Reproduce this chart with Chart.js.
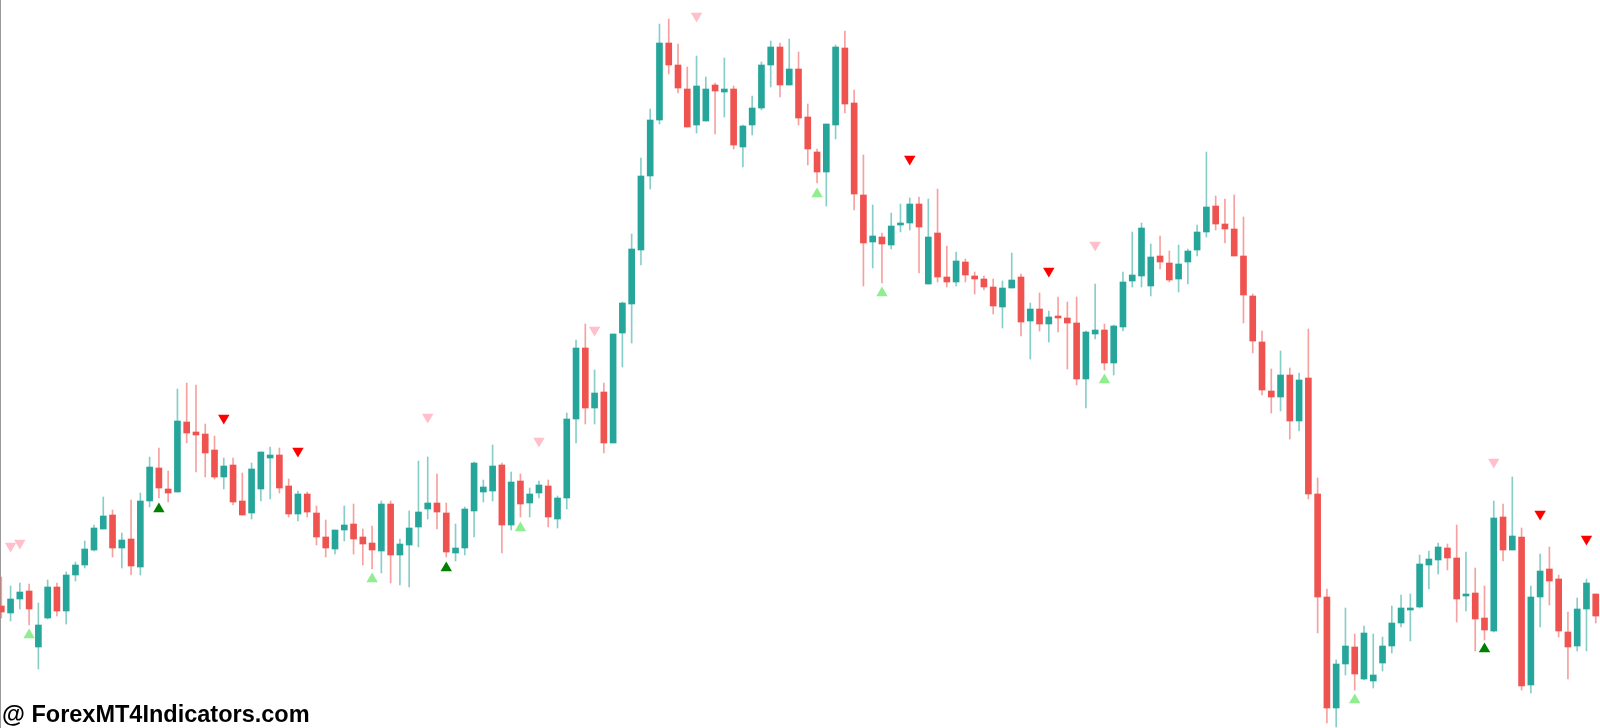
<!DOCTYPE html>
<html>
<head>
<meta charset="utf-8">
<script src="https://cdn.jsdelivr.net/npm/chart.js@4.4.1/dist/chart.umd.min.js"></script>
<style>
    html, body { margin: 0; padding: 0; background: #ffffff; }
    #wrap { position: relative; width: 1600px; height: 728px; overflow: hidden; }
    #mark {
        position: absolute; left: 2px; top: 701px;
        font-family: "Liberation Sans", Arial, sans-serif;
        font-weight: bold; font-size: 23.5px; color: #000;
        white-space: nowrap;
    }
</style>
</head>
<body>
<div id="wrap">
    <canvas id="chart" width="1600" height="728"></canvas>
    <div id="mark">@ ForexMT4Indicators.com</div>
</div>
<script>
const opens = [
    606, 613, 599, 591, 647, 618, 587, 611, 575, 565, 550, 529, 515, 548, 539, 567, 501, 468, 489, 492,
    422, 432, 434, 450, 477, 465, 501, 513, 489, 458, 455, 486, 514, 494, 513, 537, 549, 530, 524, 537,
    543, 551, 504, 555, 545, 527, 509, 503, 513, 553, 548, 511, 492, 491, 465, 525, 481, 503, 493, 486,
    519, 498, 419, 348, 408, 392, 443, 333, 304, 250, 176, 120, 43, 65, 89, 125, 121, 85, 92, 89,
    147, 125, 108, 65, 47, 85, 69, 117, 152, 172, 125, 48, 103, 195, 242, 237, 245, 224, 223, 204,
    284, 233, 277, 282, 262, 276, 279, 287, 307, 288, 277, 321, 309, 324, 316, 318, 323, 379, 334, 330,
    363, 327, 281, 276, 286, 256, 263, 279, 262, 250, 232, 206, 224, 229, 256, 296, 342, 391, 397, 375,
    421, 378, 494, 597, 708, 664, 647, 679, 681, 663, 646, 623, 610, 607, 565, 560, 548, 558, 595, 593,
    618, 631, 517, 550, 537, 685, 597, 569, 579, 632, 646, 609, 594
];
const highs = [
    577, 586, 583, 584, 603, 580, 583, 572, 562, 541, 525, 497, 510, 533, 500, 493, 457, 448, 471, 389,
    383, 385, 424, 436, 458, 458, 473, 463, 452, 447, 448, 479, 491, 492, 506, 520, 530, 506, 504, 529,
    526, 501, 501, 539, 511, 461, 457, 474, 503, 524, 507, 462, 480, 445, 463, 472, 474, 488, 481, 480,
    496, 413, 340, 324, 370, 383, 334, 302, 234, 158, 109, 24, 19, 44, 67, 56, 77, 83, 58, 86,
    125, 96, 62, 41, 43, 39, 52, 104, 149, 124, 45, 31, 90, 155, 205, 233, 213, 204, 198, 197,
    199, 189, 246, 252, 259, 272, 276, 279, 281, 253, 274, 303, 293, 311, 297, 302, 297, 331, 284, 324,
    325, 272, 232, 223, 244, 236, 251, 245, 249, 225, 152, 196, 199, 195, 217, 294, 331, 369, 351, 368,
    373, 329, 478, 589, 660, 608, 634, 626, 634, 637, 606, 595, 594, 555, 551, 543, 544, 525, 552, 568,
    586, 501, 504, 477, 528, 586, 554, 547, 575, 612, 598, 579, 594
];
const lows = [
    618, 621, 609, 625, 669, 619, 616, 624, 581, 568, 551, 529, 557, 568, 575, 575, 507, 498, 502, 492,
    443, 472, 477, 479, 489, 505, 515, 519, 501, 499, 493, 517, 521, 517, 545, 557, 554, 541, 554, 565,
    569, 573, 583, 585, 587, 547, 519, 529, 557, 561, 555, 537, 502, 501, 553, 530, 517, 517, 498, 527,
    528, 509, 443, 424, 424, 453, 443, 367, 343, 265, 189, 124, 74, 93, 127, 133, 121, 134, 117, 149,
    167, 135, 110, 87, 97, 85, 125, 165, 183, 206, 139, 113, 210, 286, 268, 283, 249, 232, 230, 273,
    284, 282, 287, 286, 282, 294, 290, 314, 328, 288, 336, 359, 331, 342, 332, 369, 385, 408, 339, 370,
    375, 331, 287, 287, 296, 269, 282, 292, 284, 256, 237, 230, 243, 256, 323, 353, 395, 413, 411, 439,
    431, 499, 633, 723, 727, 675, 690, 680, 688, 671, 653, 627, 641, 608, 589, 574, 570, 622, 611, 651,
    640, 632, 561, 550, 690, 693, 627, 605, 637, 679, 651, 651, 623
];
const closes = [
    612, 599, 592, 609, 625, 587, 611, 575, 565, 549, 528, 516, 548, 540, 566, 501, 467, 488, 493, 421,
    433, 435, 453, 477, 466, 502, 515, 469, 452, 455, 488, 514, 494, 512, 537, 548, 530, 525, 539, 544,
    550, 504, 555, 544, 528, 512, 503, 512, 552, 548, 509, 463, 487, 466, 525, 482, 504, 494, 485, 517,
    498, 419, 348, 408, 393, 443, 334, 303, 249, 176, 120, 43, 65, 88, 127, 86, 89, 91, 89, 145,
    126, 108, 65, 47, 85, 69, 118, 149, 172, 124, 47, 104, 194, 243, 236, 244, 226, 223, 204, 227,
    237, 277, 282, 261, 275, 279, 287, 306, 288, 280, 322, 309, 324, 317, 318, 323, 379, 332, 330, 363,
    326, 282, 275, 228, 257, 262, 280, 264, 251, 232, 207, 224, 229, 256, 295, 341, 390, 397, 375, 421,
    380, 494, 597, 708, 664, 646, 674, 633, 675, 646, 623, 608, 608, 564, 559, 547, 558, 599, 594, 619,
    630, 518, 550, 536, 686, 597, 571, 581, 631, 647, 609, 583, 616
];

// signal arrows: candle index and level
const sellIdx = [24, 32, 98, 113, 166, 171];
const sellLvl = [418, 451, 159, 271, 514, 539];
const weakSellIdx = [1, 2, 46, 58, 64, 75, 118, 161];
const weakSellLvl = [546, 543, 417, 441, 330, 16, 245, 462];
const buyIdx = [17, 48, 160];
const buyLvl = [509, 568, 649];
const weakBuyIdx = [3, 40, 56, 88, 95, 119, 146];
const weakBuyLvl = [635, 579, 528, 194, 293, 380, 700];

const upColor = "#26a69a";
const downColor = "#ef5350";
const upWick = "rgba(38, 166, 154, 0.55)";
const downWick = "rgba(239, 83, 80, 0.55)";

const isUp = opens.map((o, i) => closes[i] <= o);

function points(idx, lvl) {
    return idx.map((x, k) => ({ x: x, y: lvl[k] }));
}

function arrows(label, idx, lvl, color, down) {
    return {
        type: "scatter",
        label: label,
        data: points(idx, lvl),
        pointStyle: "triangle",
        rotation: down ? 180 : 0,
        pointRadius: 6.6,
        pointHoverRadius: 6.6,
        backgroundColor: color,
        borderColor: color,
        borderWidth: 0,
        clip: false,
        order: 0
    };
}

const ctx = document.getElementById("chart").getContext("2d");

new Chart(ctx, {
    type: "bar",
    data: {
        datasets: [
            {
                label: "wicks",
                data: highs.map((h, i) => ({ x: i, y: [h, lows[i]] })),
                backgroundColor: isUp.map(u => u ? upWick : downWick),
                barThickness: 1,
                grouped: false,
                order: 3
            },
            {
                label: "bodies",
                data: opens.map((o, i) => ({ x: i, y: [o, closes[i]] })),
                backgroundColor: isUp.map(u => u ? upColor : downColor),
                barThickness: 6,
                minBarLength: 2,
                grouped: false,
                order: 2
            },
            arrows("sell", sellIdx, sellLvl, "#ff0000", true),
            arrows("weak sell", weakSellIdx, weakSellLvl, "#ffc0cb", true),
            arrows("buy", buyIdx, buyLvl, "#008000", false),
            arrows("weak buy", weakBuyIdx, weakBuyLvl, "#90ee90", false)
        ]
    },
    options: {
        responsive: false,
        animation: false,
        layout: { padding: 0, autoPadding: false },
        plugins: {
            legend: { display: false },
            tooltip: { enabled: false }
        },
        scales: {
            x: {
                type: "linear",
                display: false,
                offset: false,
                bounds: "ticks",
                min: -0.14,
                max: 172.46
            },
            y: {
                reverse: true,
                min: 0,
                max: 728,
                ticks: { display: false },
                grid: { display: false, drawTicks: false },
                border: { display: true, color: "#9a9a9a", width: 2 },
                afterFit: (scale) => { scale.width = 0; }
            }
        }
    }
});
</script>
</body>
</html>
